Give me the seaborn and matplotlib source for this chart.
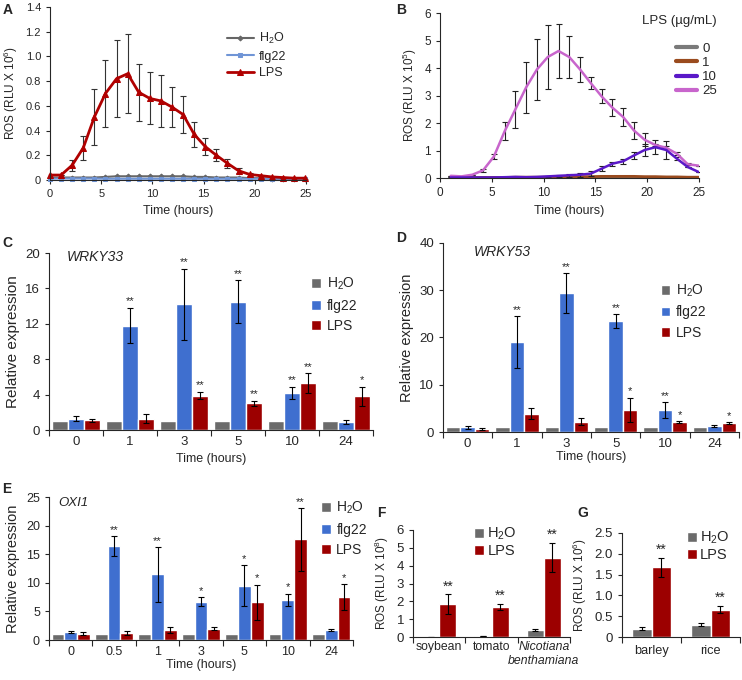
import matplotlib.pyplot as plt
import numpy as np
import pandas as pd
import seaborn as sns
from matplotlib.lines import Line2D

sns.set_style("ticks")
plt.rcParams['font.family'] = ['Liberation Sans', 'DejaVu Sans']
plt.rcParams['mathtext.default'] = 'regular'

# ---------------- data ----------------
# A: ROS kinetics (RLU x 10^6)
time_a = np.arange(24) * 1.083
ros_a_h2o = [0.02, 0.02, 0.02, 0.02, 0.02, 0.025, 0.03, 0.03, 0.03, 0.03, 0.03, 0.03,
             0.03, 0.025, 0.025, 0.02, 0.02, 0.02, 0.015, 0.015, 0.01, 0.01, 0.01, 0.01]
ros_a_flg22 = [0.01, 0.012, 0.012, 0.012, 0.012, 0.01, 0.01, 0.01, 0.01, 0.01, 0.01, 0.01,
               0.01, 0.01, 0.01, 0.01, 0.01, 0.01, 0.01, 0.01, 0.01, 0.01, 0.01, 0.01]
ros_a_lps = [0.04, 0.04, 0.12, 0.26, 0.51, 0.70, 0.82, 0.86, 0.71, 0.66, 0.64, 0.59,
             0.53, 0.37, 0.27, 0.20, 0.135, 0.075, 0.045, 0.035, 0.025, 0.02, 0.015, 0.015]
err_a_lps = [0.0, 0.0, 0.045, 0.10, 0.23, 0.27, 0.31, 0.32, 0.23, 0.21, 0.21, 0.16,
             0.15, 0.10, 0.07, 0.05, 0.035, 0.02, 0.01, 0.0, 0.0, 0.0, 0.0, 0.0]

# B: ROS kinetics by LPS dose (RLU x 10^5)
time_b = np.arange(1, 25) * 1.04
ros_b_0 = [0.02] * 24
ros_b_1 = [0.02, 0.02, 0.02, 0.02, 0.02, 0.02, 0.03, 0.03, 0.03, 0.03, 0.03, 0.04,
           0.05, 0.05, 0.06, 0.06, 0.06, 0.06, 0.05, 0.05, 0.04, 0.04, 0.03, 0.03]
ros_b_10 = [0.02, 0.02, 0.02, 0.02, 0.02, 0.03, 0.04, 0.03, 0.04, 0.06, 0.08, 0.10,
            0.12, 0.16, 0.34, 0.52, 0.61, 0.82, 1.02, 1.12, 1.02, 0.70, 0.40, 0.22]
err_b_10 = [0, 0, 0, 0, 0, 0, 0, 0, 0, 0.03, 0.04, 0.06,
            0.08, 0.10, 0.10, 0.08, 0.10, 0.14, 0.21, 0.25, 0.33, 0.05, 0.0, 0.0]
ros_b_25 = [0.08, 0.06, 0.12, 0.28, 0.78, 1.70, 2.50, 3.30, 3.95, 4.40, 4.62, 4.40,
            3.95, 3.45, 2.97, 2.56, 2.22, 1.73, 1.39, 1.20, 1.10, 0.88, 0.50, 0.45]
err_b_25 = [0, 0, 0, 0.06, 0.10, 0.32, 0.68, 0.93, 1.10, 1.17, 1.00, 0.78,
            0.45, 0.23, 0.25, 0.30, 0.32, 0.32, 0.24, 0.05, 0.05, 0.05, 0.03, 0.0]

treatments = ['H$_2$O', 'flg22', 'LPS']

# C: WRKY33
times_c = ['0', '1', '3', '5', '10', '24']
c_h2o = [1, 1, 1, 1, 1, 1]
c_flg22 = [1.3, 11.8, 14.2, 14.5, 4.2, 0.9]
c_flg22_err = [0.25, 2.0, 4.0, 2.4, 0.7, 0.25]
c_lps = [1.1, 1.3, 3.9, 3.0, 5.3, 3.8]
c_lps_err = [0.15, 0.5, 0.4, 0.3, 1.1, 1.1]
c_flg22_sig = ['', '**', '**', '**', '**', '']
c_lps_sig = ['', '', '**', '**', '**', '*']

# D: WRKY53
times_d = ['0', '1', '3', '5', '10', '24']
d_h2o = [1, 1, 1, 1, 1, 1]
d_flg22 = [1.0, 19.0, 29.4, 23.5, 4.7, 1.2]
d_flg22_err = [0.3, 5.5, 4.2, 1.5, 1.7, 0.2]
d_lps = [0.7, 3.9, 2.2, 4.7, 2.2, 1.9]
d_lps_err = [0.2, 1.2, 0.7, 2.6, 0.2, 0.3]
d_flg22_sig = ['', '**', '**', '**', '**', '']
d_lps_sig = ['', '', '', '*', '*', '*']

# E: OXI1
times_e = ['0', '0.5', '1', '3', '5', '10', '24']
e_h2o = [1, 1, 1, 1, 1, 1, 1]
e_flg22 = [1.4, 16.4, 11.5, 6.7, 9.5, 7.0, 1.7]
e_flg22_err = [0.2, 1.7, 4.8, 0.8, 3.6, 1.1, 0.2]
e_lps = [1.1, 1.2, 1.7, 2.0, 6.6, 17.6, 7.5]
e_lps_err = [0.3, 0.4, 0.5, 0.3, 3.1, 5.5, 2.3]
e_flg22_sig = ['', '**', '**', '*', '*', '*', '']
e_lps_sig = ['', '', '', '', '*', '**', '*']

# F: ROS in dicots (RLU x 10^8)
plants_f = ['soybean', 'tomato', 'Nicotiana\nbenthamiana']
f_h2o = [0.02, 0.07, 0.40]
f_h2o_err = [0.0, 0.01, 0.07]
f_lps = [1.85, 1.68, 4.45]
f_lps_err = [0.55, 0.18, 0.83]

# G: ROS in monocots (RLU x 10^6)
plants_g = ['barley', 'rice']
g_h2o = [0.20, 0.30]
g_h2o_err = [0.03, 0.03]
g_lps = [1.68, 0.66]
g_lps_err = [0.23, 0.08]

GRAY = '#6b6b6b'
BLUE = '#3f6fcf'
RED = '#9c0000'


def bar_panel(ax, cats, names, vals, errs, sigs, colors, width, sig_pad, sig_size=8):
    rows = []
    for name, v in zip(names, vals):
        for c, y in zip(cats, v):
            rows.append({'cat': c, 'value': y, 'treatment': name})
    df = pd.DataFrame(rows)
    sns.barplot(data=df, x='cat', y='value', hue='treatment', hue_order=names,
                palette=colors, errorbar=None, width=width, saturation=1, ax=ax)
    for cont, err, sig in zip(ax.containers, errs, sigs):
        xs = [p.get_x() + p.get_width() / 2 for p in cont]
        hs = [p.get_height() for p in cont]
        if err is None:
            err = [0] * len(xs)
        else:
            ax.errorbar(xs, hs, yerr=err, fmt='none', ecolor='black',
                        elinewidth=0.8, capsize=2, capthick=0.8)
        if sig is None:
            continue
        for x, h, e, s in zip(xs, hs, err, sig):
            if s:
                ax.text(x, h + e + sig_pad, s, ha='center', va='bottom', fontsize=sig_size)
    n = len(cats)
    ax.set_xlim(-0.5, n - 0.5)
    ax.set_xticks(np.arange(n + 1) - 0.5, minor=True)
    ax.tick_params(axis='x', which='major', length=0, pad=4)
    ax.tick_params(axis='x', which='minor', length=4, width=0.8)
    ax.tick_params(axis='y', length=3, width=0.8)
    ax.set_xlabel('')
    ax.set_ylabel('')
    sns.despine(ax=ax)


def bar_legend(ax, anchor, fontsize, textpad=0.4, spacing=0.45):
    handles, labels = ax.get_legend_handles_labels()
    ax.legend(handles, labels, loc='upper left', bbox_to_anchor=anchor, frameon=False,
              handlelength=0.7, handleheight=0.7, handletextpad=textpad, labelspacing=spacing,
              borderaxespad=0, borderpad=0, fontsize=fontsize)


fig = plt.figure(figsize=(7.42, 6.8), dpi=100)

# ---------------- A ----------------
axA = fig.add_axes([0.0674, 0.7353, 0.345, 0.2544])
sns.lineplot(x=time_a, y=ros_a_h2o, ax=axA, color='#666666', lw=1.5, marker='D', ms=2.5,
             mec='#666666', label='H$_2$O', clip_on=False)
sns.lineplot(x=time_a, y=ros_a_flg22, ax=axA, color='#7095d6', lw=1.5, marker='s', ms=3.5,
             mec='#7095d6', label='flg22', clip_on=False)
axA.errorbar(time_a, ros_a_lps, yerr=err_a_lps, fmt='none', ecolor='#333333',
             elinewidth=0.8, capsize=2, capthick=0.8)
sns.lineplot(x=time_a, y=ros_a_lps, ax=axA, color='#b00000', lw=2, marker='^', ms=5,
             mec='#b00000', label='LPS', clip_on=False)
axA.set_xlim(0, 25)
axA.set_ylim(0, 1.4)
axA.set_xticks([0, 5, 10, 15, 20, 25])
axA.set_yticks(np.arange(0, 1.41, 0.2))
axA.set_yticklabels(['0'] + [f'{v:.1f}' for v in np.arange(0.2, 1.41, 0.2)])
axA.tick_params(labelsize=8, length=3, width=0.8)
axA.set_xlabel('Time (hours)', fontsize=9)
axA.set_ylabel('ROS (RLU X 10$^6$)', fontsize=8.5)
axA.legend(loc='upper left', bbox_to_anchor=(0.69, 0.86), frameon=False, fontsize=9,
           handlelength=2.2, handletextpad=0.4, labelspacing=0.35, borderaxespad=0, borderpad=0)
sns.despine(ax=axA)

# ---------------- B ----------------
axB = fig.add_axes([0.593, 0.7382, 0.349, 0.2426])
dose_colors = ['#7a7a7a', '#9a4b1e', '#5a18c8', '#c865cc']
dose_labels = ['0', '1', '10', '25']
for vals, col in zip([ros_b_0, ros_b_1], dose_colors[:2]):
    sns.lineplot(x=time_b, y=vals, ax=axB, color=col, lw=2)
axB.errorbar(time_b, ros_b_25, yerr=err_b_25, fmt='none', ecolor='#222222',
             elinewidth=0.8, capsize=2, capthick=0.8)
axB.errorbar(time_b, ros_b_10, yerr=err_b_10, fmt='none', ecolor='#222222',
             elinewidth=0.8, capsize=2, capthick=0.8)
sns.lineplot(x=time_b, y=ros_b_25, ax=axB, color=dose_colors[3], lw=1.8)
sns.lineplot(x=time_b, y=ros_b_10, ax=axB, color=dose_colors[2], lw=1.8)
axB.set_xlim(0, 25)
axB.set_ylim(0, 6)
axB.set_xticks([0, 5, 10, 15, 20, 25])
axB.set_yticks(range(7))
axB.tick_params(labelsize=8.5, length=3, width=0.8)
axB.set_xlabel('Time (hours)', fontsize=9)
axB.set_ylabel('ROS (RLU X 10$^5$)', fontsize=8.5)
hB = [Line2D([], [], color=c, lw=3) for c in dose_colors]
axB.legend(hB, dose_labels, title='LPS (\u00b5g/mL)\n', loc='upper right',
           bbox_to_anchor=(1.07, 0.99), frameon=False, fontsize=9.5, title_fontsize=9.5,
           handlelength=1.6, handletextpad=0.4, labelspacing=0.15, alignment='right',
           borderaxespad=0, borderpad=0)
sns.despine(ax=axB)

# ---------------- C ----------------
axC = fig.add_axes([0.066, 0.3676, 0.4367, 0.2603])
bar_panel(axC, times_c, treatments, [c_h2o, c_flg22, c_lps],
          [None, c_flg22_err, c_lps_err], [None, c_flg22_sig, c_lps_sig],
          [GRAY, BLUE, RED], 0.88, 0.2)
axC.set_ylim(0, 20)
axC.set_yticks([0, 4, 8, 12, 16, 20])
axC.tick_params(axis='both', labelsize=9.5)
axC.set_xlabel('Time (hours)', fontsize=9)
axC.set_ylabel('Relative expression', fontsize=11)
axC.text(0.056, 0.975, 'WRKY33', transform=axC.transAxes, style='italic', fontsize=10,
         va='center', ha='left')
bar_legend(axC, (0.81, 0.87), 10)

# ---------------- D ----------------
axD = fig.add_axes([0.597, 0.3647, 0.399, 0.278])
bar_panel(axD, times_d, treatments, [d_h2o, d_flg22, d_lps],
          [None, d_flg22_err, d_lps_err], [None, d_flg22_sig, d_lps_sig],
          [GRAY, BLUE, RED], 0.88, 0.2)
axD.set_ylim(0, 40)
axD.set_yticks([0, 10, 20, 30, 40])
axD.tick_params(axis='both', labelsize=9.5)
axD.set_xlabel('Time (hours)', fontsize=9, labelpad=1)
axD.set_ylabel('Relative expression', fontsize=10.5)
axD.text(0.105, 0.95, 'WRKY53', transform=axD.transAxes, style='italic', fontsize=10,
         va='center', ha='left')
bar_legend(axD, (0.735, 0.79), 10)

# ---------------- E ----------------
axE = fig.add_axes([0.066, 0.0588, 0.4097, 0.2103])
bar_panel(axE, times_e, treatments, [e_h2o, e_flg22, e_lps],
          [None, e_flg22_err, e_lps_err], [None, e_flg22_sig, e_lps_sig],
          [GRAY, BLUE, RED], 0.88, 0.2)
axE.set_ylim(0, 25)
axE.set_yticks([0, 5, 10, 15, 20, 25])
axE.tick_params(axis='both', labelsize=9)
axE.set_xlabel('Time (hours)', fontsize=9, labelpad=1)
axE.set_ylabel('Relative expression', fontsize=10.5)
axE.text(0.03, 0.96, 'OXI1', transform=axE.transAxes, style='italic', fontsize=9.5,
         va='center', ha='left')
bar_legend(axE, (0.895, 0.98), 10)

# ---------------- F ----------------
axF = fig.add_axes([0.5566, 0.0632, 0.2116, 0.1574])
bar_panel(axF, plants_f, ['H$_2$O', 'LPS'], [f_h2o, f_lps],
          [f_h2o_err, f_lps_err], [None, ['**', '**', '**']],
          [GRAY, RED], 0.66, 0.05, sig_size=10)
axF.set_ylim(0, 6)
axF.set_yticks(range(7))
axF.tick_params(axis='y', labelsize=9.5)
axF.tick_params(axis='x', labelsize=8.8, pad=3)
axF.set_ylabel('ROS (RLU X 10$^8$)', fontsize=8.5)
labsF = axF.get_xticklabels()
labsF[2].set_style('italic')
labsF[2].set_x(2.08)
bar_legend(axF, (0.39, 1.04), 10.5, textpad=0.2, spacing=0.15)

# ---------------- G ----------------
axG = fig.add_axes([0.8383, 0.0632, 0.159, 0.153])
bar_panel(axG, plants_g, ['H$_2$O', 'LPS'], [g_h2o, g_lps],
          [g_h2o_err, g_lps_err], [None, ['**', '**']],
          [GRAY, RED], 0.66, 0.03, sig_size=10)
axG.set_ylim(0, 2.5)
axG.set_yticks([0, 0.5, 1.0, 1.5, 2.0, 2.5])
axG.set_yticklabels(['0', '0.5', '1.0', '1.5', '2.0', '2.5'])
axG.tick_params(axis='y', labelsize=9.5)
axG.tick_params(axis='x', labelsize=9.2, pad=6)
axG.set_ylabel('ROS (RLU X 10$^6$)', fontsize=8.5)
bar_legend(axG, (0.55, 1.03), 10.5, textpad=0.2, spacing=0.15)

# panel letters
for letter, x, y in [('A', 3, 3), ('B', 396, 3), ('C', 2, 236), ('D', 396, 231),
                     ('E', 2, 482), ('F', 377, 506), ('G', 577, 506)]:
    fig.text(x / 742, 1 - y / 680, letter, fontsize=10, fontweight='bold', va='top', ha='left')

fig.savefig('out.png', dpi=100)
